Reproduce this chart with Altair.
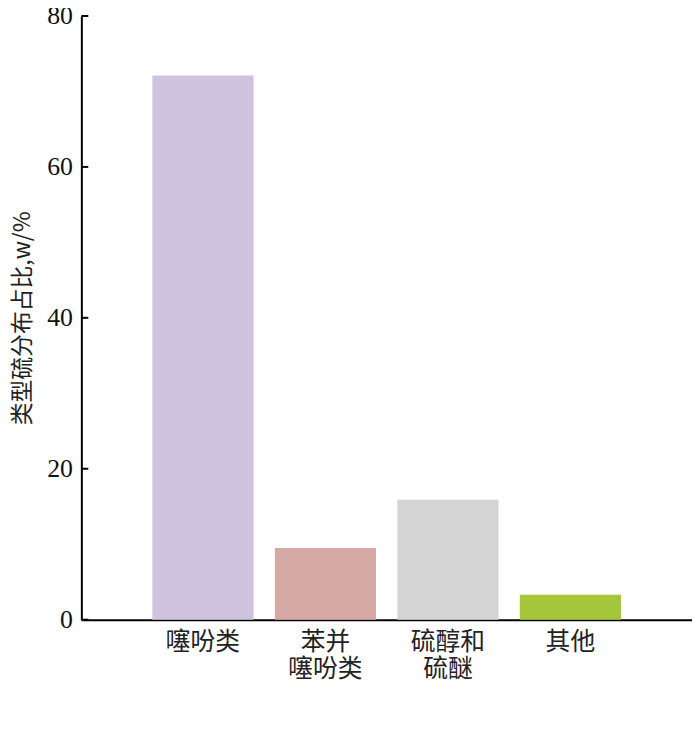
import altair as alt
import pandas as pd

categories = ["噻吩类", "苯并\n噻吩类", "硫醇和\n硫醚", "其他"]
values = [72.1, 9.5, 15.9, 3.3]
colors = ["#cfc2de", "#d6a8a4", "#d4d4d4", "#a5c63a"]
y_ticks = [0, 20, 40, 60, 80]

df = pd.DataFrame({"cat": categories, "val": values, "color": colors})
tick_df = pd.DataFrame({"t": y_ticks})

W, H = 616, 609

bars = alt.Chart(df).mark_bar().encode(
    x=alt.X("cat:N", sort=None,
            scale=alt.Scale(paddingInner=0.174, paddingOuter=0.58),
            axis=alt.Axis(title=None, labelAngle=0, labelFont="Noto Sans CJK SC",
                          labelFontSize=25, labelColor="#222222", labelPadding=10,
                          labelLineHeight=27, labelExpr="split(datum.label, '\\n')",
                          ticks=False, domainColor="#000000", domainWidth=2,
                          labelBaseline="top")),
    y=alt.Y("val:Q", scale=alt.Scale(domain=[0, 80], nice=False),
            axis=alt.Axis(title="类型硫分布占比,w/%", titleFont="Noto Sans CJK SC",
                          titleFontSize=23, titleFontWeight="normal", titleColor="#222222",
                          titlePadding=12, values=y_ticks,
                          labelFont="Liberation Serif", labelFontSize=26,
                          labelColor="#111111", labelPadding=9, ticks=False,
                          domainColor="#000000", domainWidth=2, grid=False)),
    color=alt.Color("color:N", scale=None),
)

ticks = alt.Chart(tick_df).mark_rule(color="#000000", strokeWidth=2).encode(
    y=alt.Y("t:Q"),
    x=alt.value(0),
    x2=alt.value(7),
)

chart = alt.layer(bars, ticks).properties(
    width=W, height=H,
    autosize=alt.AutoSizeParams(type="none"),
    padding={"left": 74, "top": 5, "right": 0, "bottom": 80},
).configure(background="white").configure_view(stroke=None)

chart.save("out.html", embed_options={"renderer": "svg", "actions": False})
